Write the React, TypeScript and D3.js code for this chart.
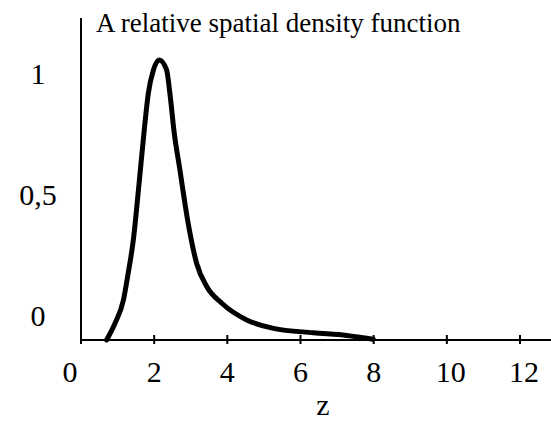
import { useEffect, useRef } from "react";
import * as d3 from "d3";

const zValues = [0.7, 0.93, 1.16, 1.29, 1.43, 1.57, 1.72, 1.84, 1.98, 2.14, 2.34, 2.43, 2.55, 2.69, 2.93, 3.16, 3.44, 3.85, 4.53, 5.26, 6.35, 7.26, 7.99];
const densityValues = [0, 0.069, 0.165, 0.276, 0.413, 0.62, 0.854, 1.019, 1.116, 1.157, 1.116, 1.019, 0.854, 0.716, 0.482, 0.317, 0.22, 0.152, 0.083, 0.048, 0.03, 0.019, 0.003];
const xTicks = [0, 2, 4, 6, 8, 10, 12];
const yTicks = [0, 0.5, 1];
const yTickLabels = ["0", "0,5", "1"];

export default function App() {
  const svgRef = useRef<SVGSVGElement>(null);

  useEffect(() => {
    const width = 551;
    const height = 436;
    const font = "'Liberation Serif', 'Times New Roman', serif";

    const svg = d3.select(svgRef.current).attr("width", width).attr("height", height);
    svg.selectAll("*").remove();

    const x = d3.scaleLinear().domain([0, 12]).range([81, 520]);
    const y = d3.scaleLinear().domain([0, 1]).range([340, 98]);

    // axes
    svg
      .append("line")
      .attr("x1", x(0))
      .attr("x2", width)
      .attr("y1", y(0))
      .attr("y2", y(0))
      .attr("stroke", "#000")
      .attr("stroke-width", 2);

    svg
      .append("line")
      .attr("x1", x(0))
      .attr("x2", x(0))
      .attr("y1", 18)
      .attr("y2", y(0))
      .attr("stroke", "#000")
      .attr("stroke-width", 2);

    svg
      .selectAll("line.xtick")
      .data(xTicks)
      .enter()
      .append("line")
      .attr("class", "xtick")
      .attr("x1", (d) => x(d))
      .attr("x2", (d) => x(d))
      .attr("y1", y(0) - 5)
      .attr("y2", y(0) + 4)
      .attr("stroke", "#000")
      .attr("stroke-width", 2);

    svg
      .selectAll("text.xlabel")
      .data(xTicks)
      .enter()
      .append("text")
      .attr("class", "xlabel")
      .attr("x", (d) => x(d))
      .attr("dx", (d) => (d === 0 ? -11 : d >= 10 ? 4 : 0))
      .attr("y", 382)
      .attr("text-anchor", "middle")
      .attr("font-family", font)
      .attr("font-size", "30px")
      .text((d) => d);

    svg
      .selectAll("text.ylabel")
      .data(yTicks)
      .enter()
      .append("text")
      .attr("class", "ylabel")
      .attr("x", 38)
      .attr("y", (d) => y(d) - 14)
      .attr("text-anchor", "middle")
      .attr("font-family", font)
      .attr("font-size", "30px")
      .text((d, i) => yTickLabels[i]);

    svg
      .append("text")
      .attr("x", 323)
      .attr("y", 415)
      .attr("text-anchor", "middle")
      .attr("font-family", font)
      .attr("font-size", "30px")
      .text("z");

    svg
      .append("text")
      .attr("x", 96)
      .attr("y", 32)
      .attr("font-family", font)
      .attr("font-size", "27px")
      .text("A relative spatial density function");

    const line = d3
      .line<number>()
      .x((d, i) => x(zValues[i]))
      .y((d) => y(d))
      .curve(d3.curveMonotoneX);

    svg
      .append("path")
      .attr("d", line(densityValues))
      .attr("fill", "none")
      .attr("stroke", "#000")
      .attr("stroke-width", 5)
      .attr("stroke-linejoin", "round")
      .attr("stroke-linecap", "round");
  }, []);

  return (
    <svg
      ref={svgRef}
      style={{ position: "absolute", left: 0, top: 0, background: "#fff" }}
    />
  );
}
